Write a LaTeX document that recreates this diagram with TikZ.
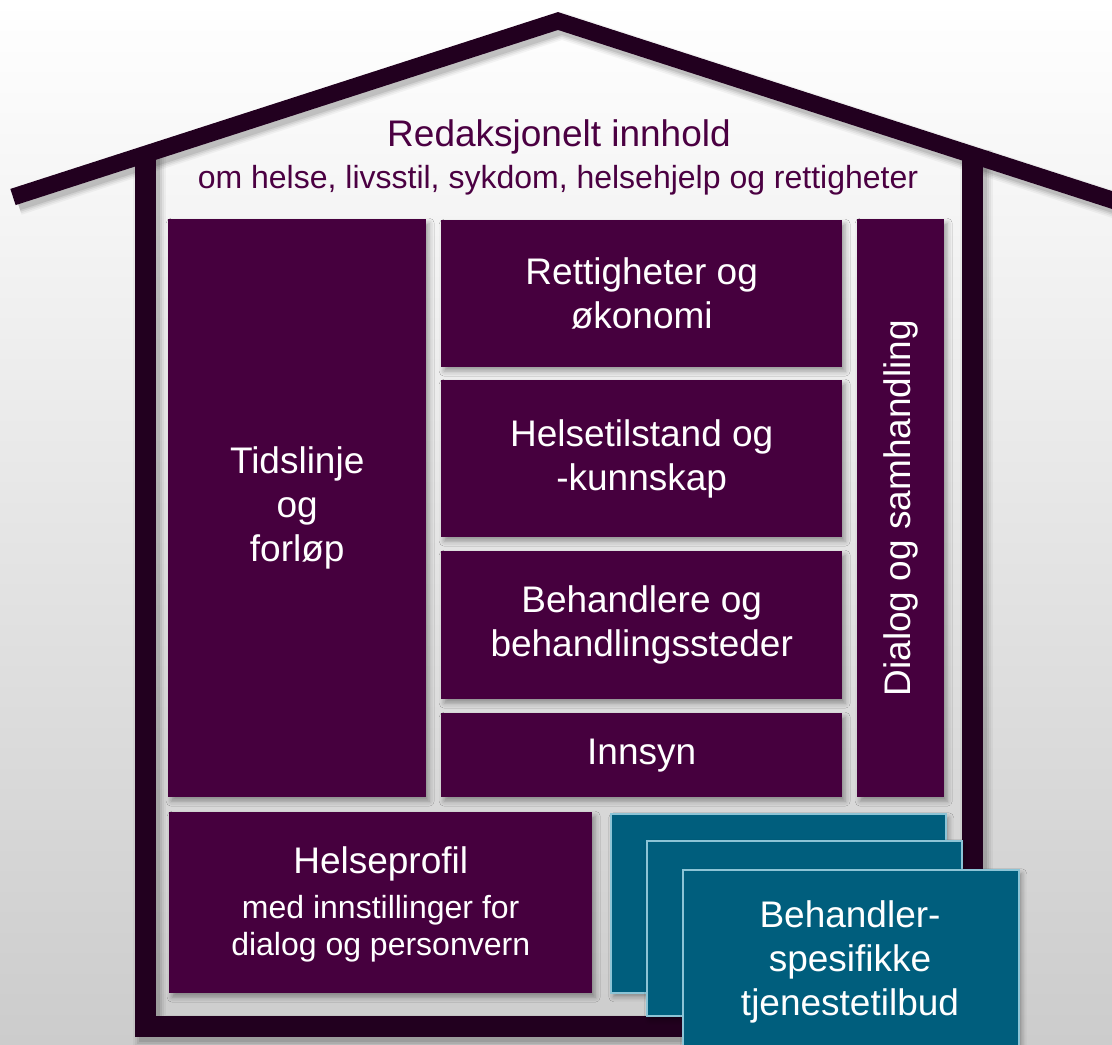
\documentclass[tikz,border=0pt]{standalone}
\usepackage{fontspec}
\setmainfont{Liberation Sans}
\usetikzlibrary{shadows.blur}
\definecolor{wallc}{HTML}{22001F}
\definecolor{boxp}{HTML}{46003E}
\definecolor{titlep}{HTML}{4B0042}
\definecolor{tealc}{HTML}{005E7D}
\definecolor{tealb}{HTML}{8CC4D6}
\tikzset{
  shad/.style={blur shadow={shadow xshift=3pt, shadow yshift=-4pt, shadow blur radius=5pt, shadow opacity=35}},
  pbox/.style={shad, fill=boxp, text=white, anchor=north west, inner sep=0pt, align=center,
    font=\fontsize{37}{44}\selectfont},
  tbox/.style={shad, fill=tealc, draw=tealb, line width=1.5pt, text=white, anchor=north west, inner sep=0pt, align=center,
    font=\fontsize{37}{44}\selectfont},
  small/.style={font=\fontsize{32}{37}\selectfont},
  wallline/.style={draw=wallc, line cap=butt, line join=miter},
}
\begin{document}
\begin{tikzpicture}[x=1pt, y=-1pt]
\useasboundingbox (0,0) rectangle (1112,1045);
\fill[top color=white, bottom color=black!20] (0,0) rectangle (1112,1045);
\begin{scope}
\clip (0,0) rectangle (1112,1045);
% fake soft shadows of walls and roof
\foreach \w/\o in {33/0.04, 29/0.05, 25/0.07, 21/0.09} {
  \draw[black, opacity=\o, line width=\w pt, line join=miter]
    (149.5,150) -- (149.5,1031) -- (976,1031) -- (976,150);
  \draw[black, opacity=\o, line width=\w pt*17/21, line join=miter]
    (17.5,202) -- (562,26) -- (1134,211);
}
% walls
\draw[wallline, line width=21pt] (145.5,150) -- (145.5,1026.5) -- (972,1026.5) -- (972,150);
% roof
\draw[wallline, line width=17pt] (13,197) -- (558,21) -- (1130,205.8);
\end{scope}
% title
\node[text=titlep, font=\fontsize{37}{44}\selectfont] (title) at (559,137) {Redaksjonelt innhold};
\node[text=titlep, small] (subtitle) at (558,180) {om helse, livsstil, sykdom, helsehjelp og rettigheter};
% purple boxes
\node[pbox, minimum width=258pt, minimum height=578pt] (tid) at (168,219) {Tidslinje\\og\\forløp};
\node[pbox, minimum width=401pt, minimum height=147pt] (ret) at (441,220) {Rettigheter og\\økonomi};
\node[pbox, minimum width=401pt, minimum height=157pt] (hel) at (441,380) {Helsetilstand og\\-kunnskap};
\node[pbox, minimum width=401pt, minimum height=148pt] (beh) at (441,551) {Behandlere og\\behandlingssteder};
\node[pbox, minimum width=401pt, minimum height=84pt] (inn) at (441,713) {Innsyn};
\node[pbox, minimum width=87pt, minimum height=578pt] (dia) at (857,219) {};
\node[text=white, rotate=90, font=\fontsize{37}{44}\selectfont] (dialab) at (dia.center) {Dialog og samhandling};
\node[pbox, minimum width=423pt, minimum height=181pt] (prof) at (169,812) {};
\node[text=white, align=center, inner sep=0pt, font=\fontsize{32}{37}\selectfont] (proflab) at ([yshift=-2pt]prof.center)
  {{\fontsize{37}{44}\selectfont Helseprofil}\\[8pt]med innstillinger for\\dialog og personvern};
% teal boxes
\node[tbox, minimum width=335pt, minimum height=179pt] (t1) at (610,813) {};
\node[tbox, minimum width=315pt, minimum height=175pt] (t2) at (646,840) {};
\node[tbox, minimum width=336pt, minimum height=200pt] (t3) at (682,869) {};
\node[text=white, align=center, inner sep=0pt, font=\fontsize{37}{44}\selectfont] (t3lab) at (850,962) {Behandler-\\spesifikke\\tjenestetilbud};
\end{tikzpicture}
\end{document}
